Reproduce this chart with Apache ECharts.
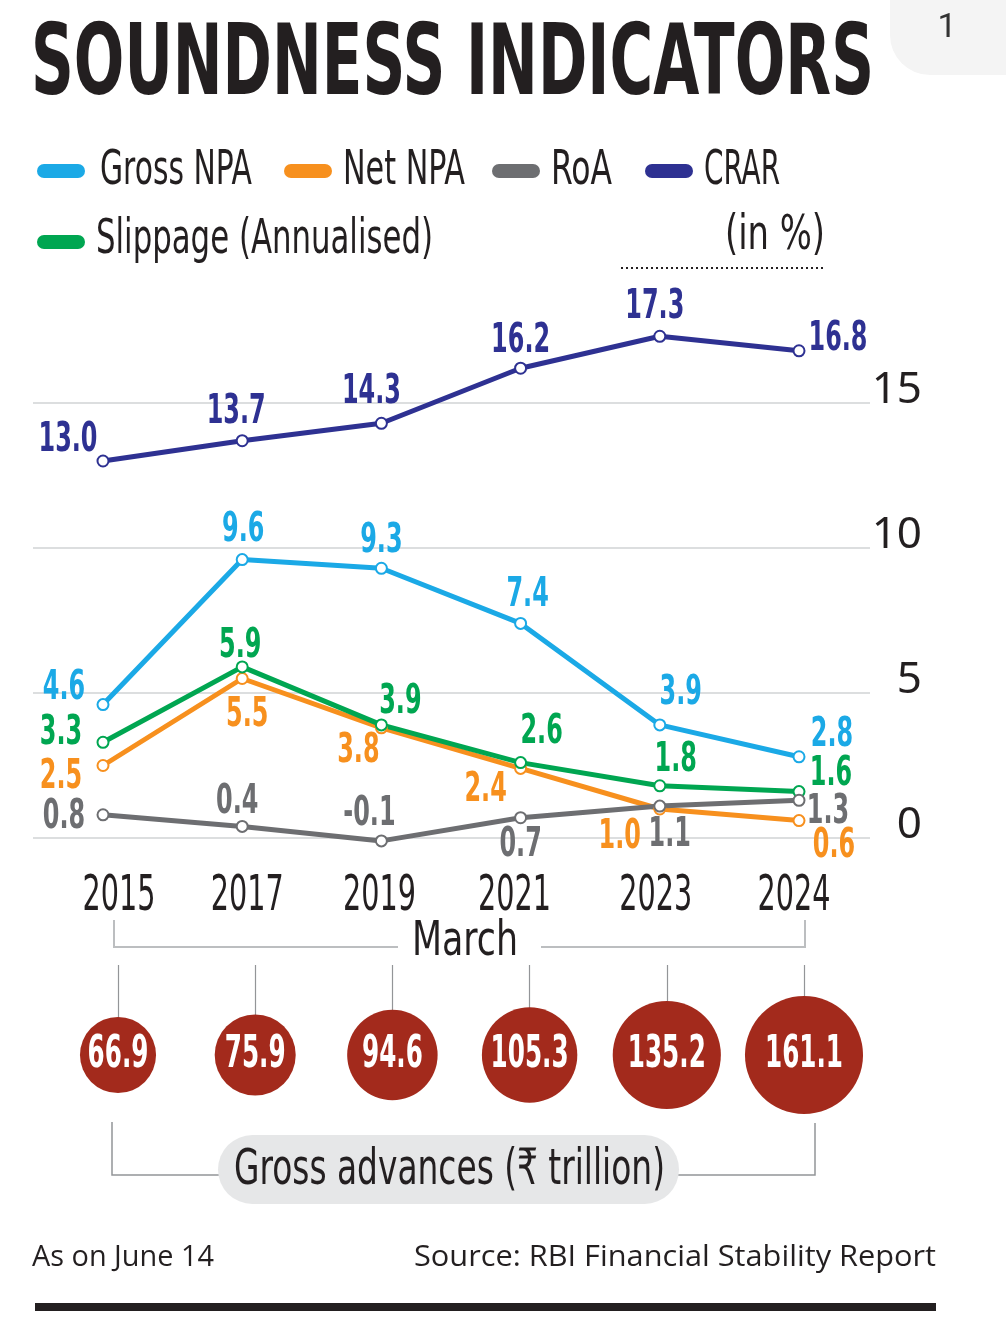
<!DOCTYPE html>
<html>
<head>
<meta charset="utf-8">
<script src="https://cdn.jsdelivr.net/npm/echarts@6/dist/echarts.min.js"></script>
<style>
  html, body { margin: 0; padding: 0; background: #fff; }
  #chart { width: 1006px; height: 1335px; }
</style>
</head>
<body>
<div id="chart"></div>
<script>
// ---- data ----
var years = ['2015', '2017', '2019', '2021', '2023', '2024'];
var grossNpa = [4.6, 9.6, 9.3, 7.4, 3.9, 2.8];
var netNpa = [2.5, 5.5, 3.8, 2.4, 1.0, 0.6];
var roa = [0.8, 0.4, -0.1, 0.7, 1.1, 1.3];
var crar = [13.0, 13.7, 14.3, 16.2, 17.3, 16.8];
var slippage = [3.3, 5.9, 3.9, 2.6, 1.8, 1.6];
var grossAdvances = [66.9, 75.9, 94.6, 105.3, 135.2, 161.1];

// label placement (pixel offsets from each point), styling only
var crarOff = [[-35, -21], [-6, -28], [-10, -31], [0, -27], [-5, -29], [39, -11]];
var grossOff = [[-39, -16], [1, -29], [0, -27], [7, -28], [21, -32], [33, -21]];
var slipOff = [[-42, -9], [-2, -21], [19, -23], [21, -30], [16, -25], [32, -17]];
var netOff = [[-42, 12], [5, 37], [-23, 24], [-35, 22], [-40, 28], [35, 26]];
var roaOff = [[-39, 3], [-5, -24], [-12, -27], [0, 28], [10, 29], [29, 12]];
var yearOff = [[16, 59], [5, 59], [-2, 59], [-6, 59], [-4, 59], [-5, 59]];
var bubbleOff = [[0, 1], [0, 1], [0, 1], [0, 1], [0, 1], [0, 1]];

var NARROW = "'Liberation Sans Narrow', 'DejaVu Sans Condensed', 'Noto Sans', sans-serif";
var DARK = '#231f20';
var C_CRAR = '#2e3192', C_GROSS = '#1ba9e6', C_SLIP = '#00a651', C_NET = '#f7901e', C_ROA = '#6d6e71';

var measureCtx = document.createElement('canvas').getContext('2d');

function textWidth(text, size, weight, family) {
    measureCtx.font = (weight || 'normal') + ' ' + size + 'px ' + (family || NARROW);
    return measureCtx.measureText(text).width;
}

// text squeezed horizontally to a target width
function fitText(text, x, y, width, size, opts) {
    opts = opts || {};
    var weight = opts.weight || 'normal';
    var family = opts.family || NARROW;
    return {
        type: 'text', x: x, y: y, scaleX: width / textWidth(text, size, weight, family), z: 10,
        style: {
            text: text, fontSize: size, fontFamily: family, fontWeight: weight,
            fill: opts.color || DARK, textAlign: opts.align || 'left', textVerticalAlign: 'middle'
        }
    };
}

function legendBar(x, y, color) {
    return { type: 'rect', shape: { x: x, y: y - 7, width: 48, height: 14, r: 7 }, style: { fill: color }, z: 10 };
}

function lineSeries(name, data, color) {
    return {
        name: name,
        type: 'line',
        xAxisIndex: 0,
        yAxisIndex: 0,
        clip: false,
        animation: false,
        symbol: 'emptyCircle',
        symbolSize: 11,
        data: data,
        lineStyle: { color: color, width: 5 },
        itemStyle: { color: color, borderWidth: 2.5 }
    };
}

// condensed text labels placed through the axes (custom series, so the text can be narrowed)
function labelSeries(values, yVals, axis, color, offsets, size, weight, sx, fmt) {
    return {
        type: 'custom',
        xAxisIndex: axis,
        yAxisIndex: axis,
        silent: true,
        animation: false,
        z: 5,
        data: values.map(function (v, i) { return [i, yVals ? yVals[i] : v]; }),
        renderItem: function (params, api) {
            var pt = api.coord([api.value(0), api.value(1)]);
            var off = offsets[params.dataIndex];
            return {
                type: 'text',
                x: pt[0] + off[0],
                y: pt[1] + off[1],
                scaleX: sx,
                style: {
                    text: fmt(values[params.dataIndex]), fontSize: size, fontFamily: NARROW,
                    fontWeight: weight, fill: color, textAlign: 'center', textVerticalAlign: 'middle'
                }
            };
        }
    };
}

function oneDec(v) { return v.toFixed(1); }
var zeros = years.map(function () { return 0; });

var labelSx = 59 / textWidth('13.0', 41, 'bold');
var yearSx = 73 / textWidth('2015', 49, 'normal');
var bubbleSx = 78 / textWidth('105.3', 44, 'bold');

var chart = echarts.init(document.getElementById('chart'), null, { renderer: 'canvas' });

var option = {
    backgroundColor: '#fff',
    animation: false,
    grid: [
        { left: 103, right: 207, top: 403, bottom: 497 },
        { left: 33, right: 136, top: 403, bottom: 497 },
        { left: 118, right: 202, top: 965, bottom: 280 }
    ],
    xAxis: [
        {
            gridIndex: 0, type: 'category', data: years, boundaryGap: false,
            axisLine: { show: false }, axisTick: { show: false }, splitLine: { show: false },
            axisLabel: { show: false }
        },
        { gridIndex: 1, type: 'category', data: years, show: false },
        {
            gridIndex: 2, type: 'category', data: years, boundaryGap: false,
            axisLine: { show: false }, axisTick: { show: false }, axisLabel: { show: false },
            splitLine: { show: true, interval: 0, lineStyle: { color: '#939598', width: 1.2 } }
        }
    ],
    yAxis: [
        { gridIndex: 0, type: 'value', min: 0, max: 15, interval: 5, show: false },
        {
            gridIndex: 1, type: 'value', min: 0, max: 15, interval: 5, position: 'right',
            axisLine: { show: false }, axisTick: { show: false },
            splitLine: { lineStyle: { color: '#d1d3d4', width: 1.5 } },
            axisLabel: {
                margin: 52, align: 'right', verticalAlign: 'bottom', lineHeight: 26,
                color: DARK, fontSize: 44, fontFamily: "'Noto Sans', sans-serif"
            }
        },
        { gridIndex: 2, type: 'value', min: 0, max: 1, show: false }
    ],
    series: [
        lineSeries('Net NPA', netNpa, C_NET),
        lineSeries('Slippage (Annualised)', slippage, C_SLIP),
        lineSeries('RoA', roa, C_ROA),
        lineSeries('Gross NPA', grossNpa, C_GROSS),
        lineSeries('CRAR', crar, C_CRAR),
        labelSeries(netNpa, null, 0, C_NET, netOff, 41, 'bold', labelSx, oneDec),
        labelSeries(slippage, null, 0, C_SLIP, slipOff, 41, 'bold', labelSx, oneDec),
        labelSeries(roa, null, 0, C_ROA, roaOff, 41, 'bold', labelSx, oneDec),
        labelSeries(grossNpa, null, 0, C_GROSS, grossOff, 41, 'bold', labelSx, oneDec),
        labelSeries(crar, null, 0, C_CRAR, crarOff, 41, 'bold', labelSx, oneDec),
        labelSeries(years, zeros, 0, DARK, yearOff, 49, 'normal', yearSx, String),
        {
            name: 'Gross advances',
            type: 'scatter',
            xAxisIndex: 2,
            yAxisIndex: 2,
            clip: false,
            data: grossAdvances.map(function (v, i) { return [i, 0, v]; }),
            symbolSize: function (d) { return 9.3 * Math.sqrt(d[2]); },
            itemStyle: { color: '#a32a1c', opacity: 1 }
        },
        labelSeries(grossAdvances, zeros, 2, '#fff', bubbleOff, 44, 'bold', bubbleSx, oneDec)
    ],
    graphic: [
        // page corner tab
        { type: 'rect', shape: { x: 890, y: -40, width: 170, height: 115, r: 40 }, style: { fill: '#f4f4f4' } },
        { type: 'text', x: 947, y: 28, style: { text: '1', fontSize: 34, fontFamily: 'Roboto', fill: '#333', textAlign: 'center', textVerticalAlign: 'middle' } },
        // title
        fitText('SOUNDNESS INDICATORS', 31, 69, 843, 98, { weight: 'bold' }),
        // legend
        legendBar(37, 171, C_GROSS), fitText('Gross NPA', 100, 172, 152, 48),
        legendBar(284, 171, C_NET), fitText('Net NPA', 343, 172, 122, 48),
        legendBar(492, 171, C_ROA), fitText('RoA', 551, 172, 61, 48),
        legendBar(645, 171, C_CRAR), fitText('CRAR', 704, 172, 76, 48),
        legendBar(37, 242, C_SLIP), fitText('Slippage (Annualised)', 96, 241, 337, 48),
        fitText('(in %)', 725, 237, 100, 48),
        { type: 'line', shape: { x1: 621, y1: 268, x2: 825, y2: 268 }, style: { stroke: DARK, lineWidth: 2, lineDash: [2, 3] } },
        // March bracket
        { type: 'polyline', shape: { points: [[114, 920], [114, 947], [398, 947]] }, style: { stroke: '#bcbec0', lineWidth: 2, fill: null } },
        { type: 'polyline', shape: { points: [[541, 947], [805, 947], [805, 920]] }, style: { stroke: '#bcbec0', lineWidth: 2, fill: null } },
        fitText('March', 465, 943, 106, 48, { align: 'center' }),
        // gross advances bracket + pill
        { type: 'polyline', shape: { points: [[112, 1122], [112, 1175], [220, 1175]] }, style: { stroke: '#939598', lineWidth: 1.5, fill: null } },
        { type: 'polyline', shape: { points: [[677, 1175], [815, 1175], [815, 1123]] }, style: { stroke: '#939598', lineWidth: 1.5, fill: null } },
        { type: 'rect', shape: { x: 218, y: 1135, width: 461, height: 69, r: 34.5 }, style: { fill: '#e6e7e8' } },
        fitText('Gross advances (\u20b9 trillion)', 234, 1171, 431, 50),
        // footer
        fitText('As on June 14', 32, 1257, 182, 30, { family: "'Open Sans', 'Noto Sans', sans-serif" }),
        fitText('Source: RBI Financial Stability Report', 936, 1257, 522, 30, { family: "'Open Sans', 'Noto Sans', sans-serif", align: 'right' }),
        { type: 'rect', shape: { x: 35, y: 1303, width: 901, height: 8 }, style: { fill: DARK } }
    ]
};

chart.setOption(option);
</script>
</body>
</html>
